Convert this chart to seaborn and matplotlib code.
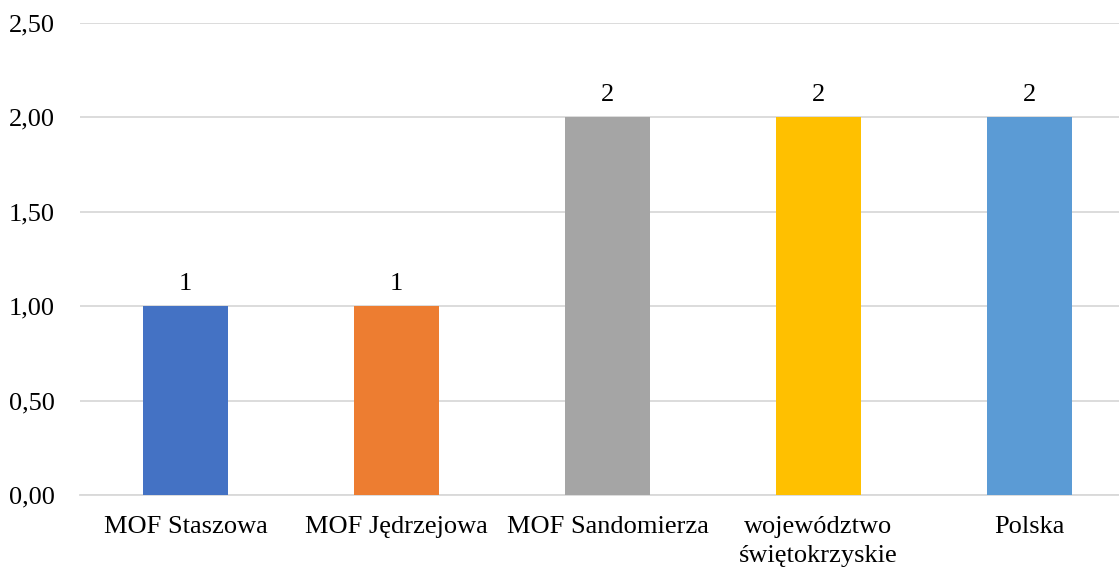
import matplotlib
matplotlib.use("Agg")
import matplotlib.pyplot as plt
import seaborn as sns
import pandas as pd

categories = ["MOF Staszowa", "MOF Jędrzejowa", "MOF Sandomierza", "województwo\nświętokrzyskie", "Polska"]
values = [1, 1, 2, 2, 2]
colors = ["#4472C4", "#ED7D31", "#A5A5A5", "#FFC000", "#5B9BD5"]
yticks = [0.0, 0.5, 1.0, 1.5, 2.0, 2.5]
ytick_labels = ["0,00", "0,50", "1,00", "1,50", "2,00", "2,50"]

sns.set_theme(style="white")
plt.rcParams["font.family"] = ["Liberation Serif", "DejaVu Serif"]

df = pd.DataFrame({"cat": categories, "val": values})

fig = plt.figure(figsize=(11.19, 5.68), dpi=100)
W, H = 1119, 568
ax = fig.add_axes([80 / W, (H - 495) / H, 1055 / W, (495 - 23) / H])

sns.barplot(data=df, x="cat", y="val", hue="cat", palette=colors, legend=False,
            width=0.403, ax=ax, saturation=1, zorder=3, linewidth=0, edgecolor="none")

FS = 19
ax.set_ylim(0, 2.5)
ax.set_yticks(yticks)
ax.set_yticklabels(ytick_labels, fontsize=FS, color="black")
ax.tick_params(axis="x", labelsize=FS, colors="black", length=0, pad=15)
ax.tick_params(axis="y", length=0, pad=18)
for lab in ax.get_xticklabels():
    lab.set_linespacing(1.4)
ax.set_xlabel("")
ax.set_ylabel("")
ax.grid(axis="y", color="#D9D9D9", linewidth=1.3, zorder=0)
for s in ["left", "right", "top"]:
    ax.spines[s].set_visible(False)
ax.spines["bottom"].set_color("#D9D9D9")
ax.spines["bottom"].set_linewidth(1.3)

for cont in ax.containers:
    ax.bar_label(cont, labels=[f"{v:g}" for v in cont.datavalues], fontsize=FS,
                 padding=8, color="black")

fig.savefig("out.png", dpi=100)
